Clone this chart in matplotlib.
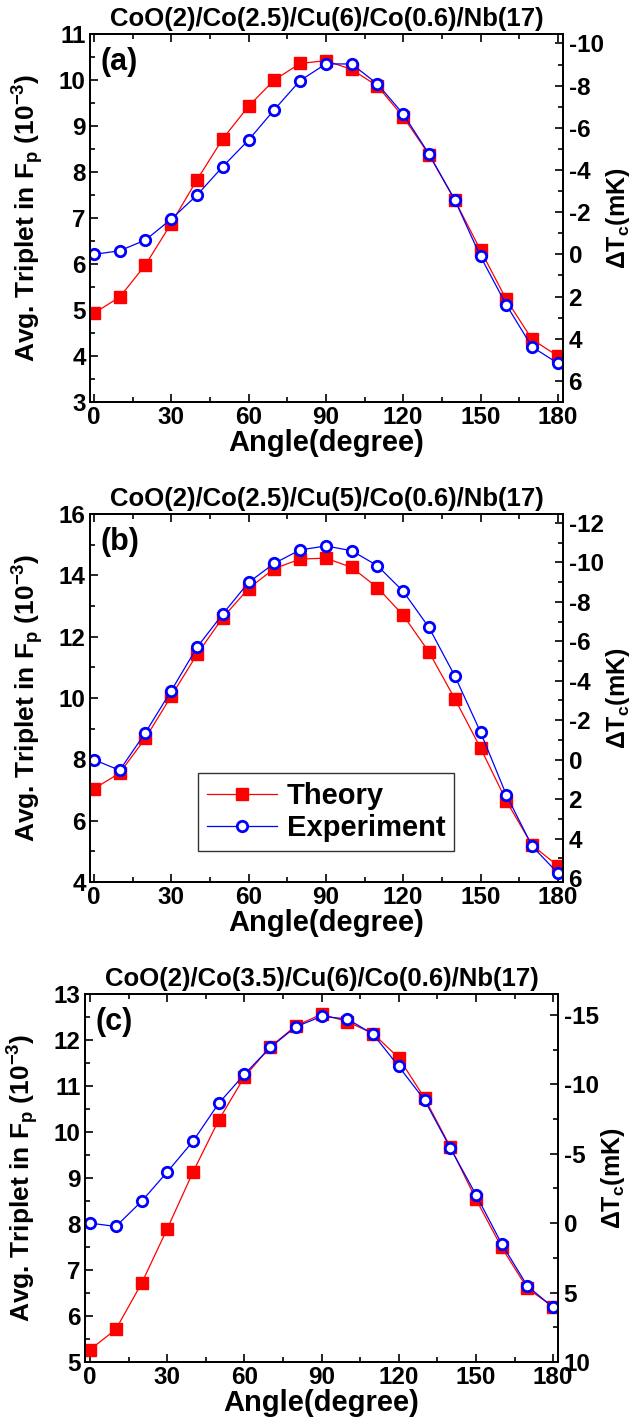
import matplotlib
matplotlib.use("Agg")
import matplotlib.pyplot as plt
from matplotlib.ticker import MultipleLocator

plt.rcParams['font.family'] = ['Liberation Sans', 'DejaVu Sans']
plt.rcParams['font.weight'] = 'bold'
plt.rcParams['axes.unicode_minus'] = False
plt.rcParams['mathtext.fontset'] = 'custom'
plt.rcParams['mathtext.rm'] = 'Liberation Sans:bold'
plt.rcParams['mathtext.it'] = 'Liberation Sans:bold'
plt.rcParams['mathtext.bf'] = 'Liberation Sans:bold'

angle = [0, 10, 20, 30, 40, 50, 60, 70, 80, 90, 100, 110, 120, 130, 140, 150, 160, 170, 180]

# panel (a): CoO(2)/Co(2.5)/Cu(6)/Co(0.6)/Nb(17)
theory_a = [4.93, 5.28, 5.98, 6.88, 7.83, 8.72, 9.43, 10.00, 10.36, 10.42,
            10.23, 9.87, 9.20, 8.38, 7.39, 6.30, 5.23, 4.36, 4.00]
exp_a = [0.0, -0.17, -0.68, -1.67, -2.81, -4.16, -5.42, -6.86, -8.24, -9.03,
         -9.03, -8.08, -6.66, -4.76, -2.59, 0.10, 2.39, 4.39, 5.16]

# panel (b): CoO(2)/Co(2.5)/Cu(5)/Co(0.6)/Nb(17)
theory_b = [7.04, 7.55, 8.69, 10.06, 11.42, 12.62, 13.57, 14.22, 14.53, 14.56,
            14.26, 13.60, 12.70, 11.50, 9.98, 8.37, 6.65, 5.20, 4.53]
exp_b = [0.0, 0.54, -1.37, -3.49, -5.69, -7.38, -8.98, -9.95, -10.63, -10.83,
         -10.59, -9.83, -8.53, -6.70, -4.25, -1.40, 1.78, 4.38, 5.75]

# panel (c): CoO(2)/Co(3.5)/Cu(6)/Co(0.6)/Nb(17)
theory_c = [5.27, 5.71, 6.71, 7.90, 9.13, 10.26, 11.20, 11.85, 12.31, 12.56,
            12.40, 12.14, 11.61, 10.74, 9.68, 8.54, 7.49, 6.60, 6.20]
exp_c = [0.0, 0.24, -1.57, -3.69, -5.90, -8.63, -10.72, -12.65, -14.14, -14.89,
         -14.70, -13.61, -11.28, -8.87, -5.42, -2.05, 1.49, 4.53, 6.07]

titles = ['CoO(2)/Co(2.5)/Cu(6)/Co(0.6)/Nb(17)',
          'CoO(2)/Co(2.5)/Cu(5)/Co(0.6)/Nb(17)',
          'CoO(2)/Co(3.5)/Cu(6)/Co(0.6)/Nb(17)']
tags = ['(a)', '(b)', '(c)']

fig = plt.figure(figsize=(6.34, 14.27), dpi=100)

panels = [
    # rect, xlim, left ylim, left major, right ylim, right major, data
    ([90/634, 1-402/1427, 473/634, 368/1427], (-1.5, 182), (3, 11), 1, (7.0, -10.45), 2, theory_a, exp_a),
    ([90/634, 1-882/1427, 473/634, 368/1427], (-1.5, 182), (4, 16), 2, (6.2, -12.45), 2, theory_b, exp_b),
    ([85/634, 1-1362/1427, 473/634, 368/1427], (-2, 181.9), (5, 13), 1, (10.0, -16.5), 5, theory_c, exp_c),
]

for i, (rect, xl, yl, ymaj, yr, rmaj, th, ex) in enumerate(panels):
    ax = fig.add_axes(rect)
    ax2 = ax.twinx()

    l1, = ax.plot(angle, th, '-s', color='red', lw=0.9, ms=8, mec='red', mfc='red', label='Theory')
    l2, = ax2.plot(angle, ex, '-o', color='blue', lw=0.9, ms=7.5, mec='blue', mfc='white', mew=2,
                   label='Experiment')

    ax.set_xlim(xl)
    ax.set_ylim(yl)
    ax2.set_ylim(yr)

    ax.xaxis.set_major_locator(MultipleLocator(30))
    ax.xaxis.set_minor_locator(MultipleLocator(15))
    ax.yaxis.set_major_locator(MultipleLocator(ymaj))
    ax.yaxis.set_minor_locator(MultipleLocator(ymaj / 2))
    ax2.yaxis.set_major_locator(MultipleLocator(rmaj))
    ax2.yaxis.set_minor_locator(MultipleLocator(rmaj / 2))

    ax.tick_params(which='both', direction='in', top=True, right=False, labelsize=17.5, width=1.2)
    ax.tick_params(which='major', length=6, pad=3)
    ax.tick_params(which='minor', length=3.5)
    ax2.tick_params(which='both', direction='in', labelsize=17.5, width=1.2)
    ax2.tick_params(which='major', length=6, pad=4)
    ax2.tick_params(which='minor', length=3.5)
    for a in (ax, ax2):
        for s in a.spines.values():
            s.set_linewidth(1.3)

    ax.set_xlabel('Angle(degree)', fontsize=21, fontweight='bold', labelpad=0)
    ax.set_ylabel('Avg. Triplet in F$_p$ (10$^{-3}$)', fontsize=19, fontweight='bold', labelpad=9)
    ax2.set_ylabel('ΔT$_c$(mK)', fontsize=18, fontweight='bold', labelpad=0)
    ax.set_title(titles[i], fontsize=18.5, fontweight='bold', pad=6)
    ax.text(0.022, 0.965, tags[i], transform=ax.transAxes, fontsize=22, fontweight='bold',
            va='top', ha='left')

    if i == 1:
        ax2.legend([l1, l2], ['Theory', 'Experiment'], loc='lower left',
                   bbox_to_anchor=(0.228, 0.084, 0.541, 0.204), mode='expand',
                   borderaxespad=0, frameon=True, fancybox=False, edgecolor='#333333',
                   framealpha=1, borderpad=0.3, handlelength=2.4, handletextpad=0.35,
                   labelspacing=0.15, prop={'weight': 'bold', 'size': 21})

fig.savefig('out.png', dpi=100)
